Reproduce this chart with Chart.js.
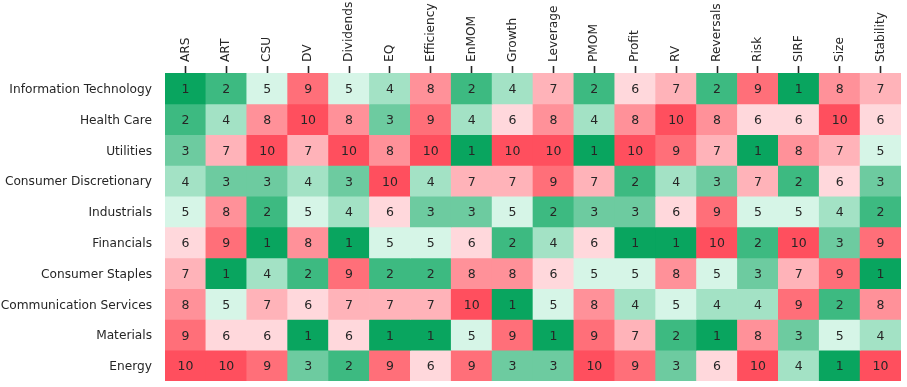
<!DOCTYPE html>
<html>
<head>
<meta charset="utf-8">
<script src="https://cdn.jsdelivr.net/npm/chart.js@4.4.0/dist/chart.umd.min.js"></script>
<style>
  html, body { margin: 0; padding: 0; background: #fff; }
  #wrap { width: 907px; height: 387px; }
</style>
</head>
<body>
<div id="wrap"><canvas id="heat" width="907" height="387"></canvas></div>
<script>
// factor columns (top axis)
const factors = ['ARS', 'ART', 'CSU', 'DV', 'Dividends', 'EQ', 'Efficiency', 'EnMOM', 'Growth',
  'Leverage', 'PMOM', 'Profit', 'RV', 'Reversals', 'Risk', 'SIRF', 'Size', 'Stability'];

// sectors (rows, top to bottom)
const sectors = ['Information Technology', 'Health Care', 'Utilities', 'Consumer Discretionary',
  'Industrials', 'Financials', 'Consumer Staples', 'Communication Services', 'Materials', 'Energy'];

// rank of each sector per factor
const itRanks        = [1, 2, 5, 9, 5, 4, 8, 2, 4, 7, 2, 6, 7, 2, 9, 1, 8, 7];
const healthRanks    = [2, 4, 8, 10, 8, 3, 9, 4, 6, 8, 4, 8, 10, 8, 6, 6, 10, 6];
const utilRanks      = [3, 7, 10, 7, 10, 8, 10, 1, 10, 10, 1, 10, 9, 7, 1, 8, 7, 5];
const discRanks      = [4, 3, 3, 4, 3, 10, 4, 7, 7, 9, 7, 2, 4, 3, 7, 2, 6, 3];
const indRanks       = [5, 8, 2, 5, 4, 6, 3, 3, 5, 2, 3, 3, 6, 9, 5, 5, 4, 2];
const finRanks       = [6, 9, 1, 8, 1, 5, 5, 6, 2, 4, 6, 1, 1, 10, 2, 10, 3, 9];
const staplesRanks   = [7, 1, 4, 2, 9, 2, 2, 8, 8, 6, 5, 5, 8, 5, 3, 7, 9, 1];
const commRanks      = [8, 5, 7, 6, 7, 7, 7, 10, 1, 5, 8, 4, 5, 4, 4, 9, 2, 8];
const matRanks       = [9, 6, 6, 1, 6, 1, 1, 5, 9, 1, 9, 7, 2, 1, 8, 3, 5, 4];
const energyRanks    = [10, 10, 9, 3, 2, 9, 6, 9, 3, 3, 10, 9, 3, 6, 10, 4, 1, 10];

const ranks = [itRanks, healthRanks, utilRanks, discRanks, indRanks,
  finRanks, staplesRanks, commRanks, matRanks, energyRanks];

// green (1) -> red (10)
const palette = ['#09a55f', '#3dba81', '#6dcba0', '#a3e2c5', '#d6f5e7',
  '#ffd8dc', '#ffb3b9', '#ff9199', '#ff6f79', '#ff4f5e'];

const FONT = 'DejaVu Sans';
const FSIZE = 12.2;
const TXT = '#262626';

// each row is a stacked band of height 1, coloured by its rank
const datasets = sectors.map((name, r) => ({
  label: name,
  data: factors.map(() => 1),
  ranks: ranks[r],
  backgroundColor: ranks[r].map(v => palette[v - 1]),
  borderWidth: 0,
  barPercentage: 1,
  categoryPercentage: 1,
}));

// draw rank numbers in the middle of each cell
const cellText = {
  id: 'cellText',
  afterDatasetsDraw(chart) {
    const ctx = chart.ctx;
    ctx.save();
    ctx.font = '12.5px ' + FONT;
    ctx.fillStyle = TXT;
    ctx.textAlign = 'center';
    ctx.textBaseline = 'middle';
    chart.data.datasets.forEach((ds, i) => {
      chart.getDatasetMeta(i).data.forEach((bar, j) => {
        ctx.fillText(String(ds.ranks[j]), bar.x, (bar.y + bar.base) / 2 + 1.5);
      });
    });
    ctx.restore();
  }
};

new Chart(document.getElementById('heat').getContext('2d'), {
  type: 'bar',
  data: { labels: factors, datasets },
  plugins: [cellText],
  options: {
    responsive: false,
    animation: false,
    layout: { padding: { left: 0, right: 6, top: 0, bottom: 6 } },
    plugins: { legend: { display: false }, tooltip: { enabled: false } },
    scales: {
      x: {
        position: 'top',
        stacked: true,
        grid: {
          display: true, offset: false, drawOnChartArea: false, drawTicks: true,
          tickLength: 7, tickWidth: 1.6, tickColor: TXT, color: TXT
        },
        border: { display: false },
        ticks: {
          minRotation: 90, maxRotation: 90, autoSkip: false, padding: 4,
          labelOffset: FSIZE * 1.2,
          color: TXT, font: { family: FONT, size: FSIZE }
        },
        afterFit(scale) {
          scale.height = 73;
          scale.paddingLeft = 0;
          scale.paddingRight = 0;
        }
      },
      y: {
        stacked: true,
        reverse: true,
        min: 0,
        max: sectors.length,
        grid: { display: false, drawTicks: false },
        border: { display: false },
        afterBuildTicks(scale) {
          scale.ticks = sectors.map((_, i) => ({ value: i + 0.5 }));
        },
        ticks: {
          padding: 13, labelOffset: 1.5, color: TXT, font: { family: FONT, size: FSIZE },
          callback: (v, i) => sectors[i]
        },
        afterFit(scale) {
          scale.width = 165;
          scale.paddingTop = 0;
          scale.paddingBottom = 0;
        }
      }
    }
  }
});
</script>
</body>
</html>
